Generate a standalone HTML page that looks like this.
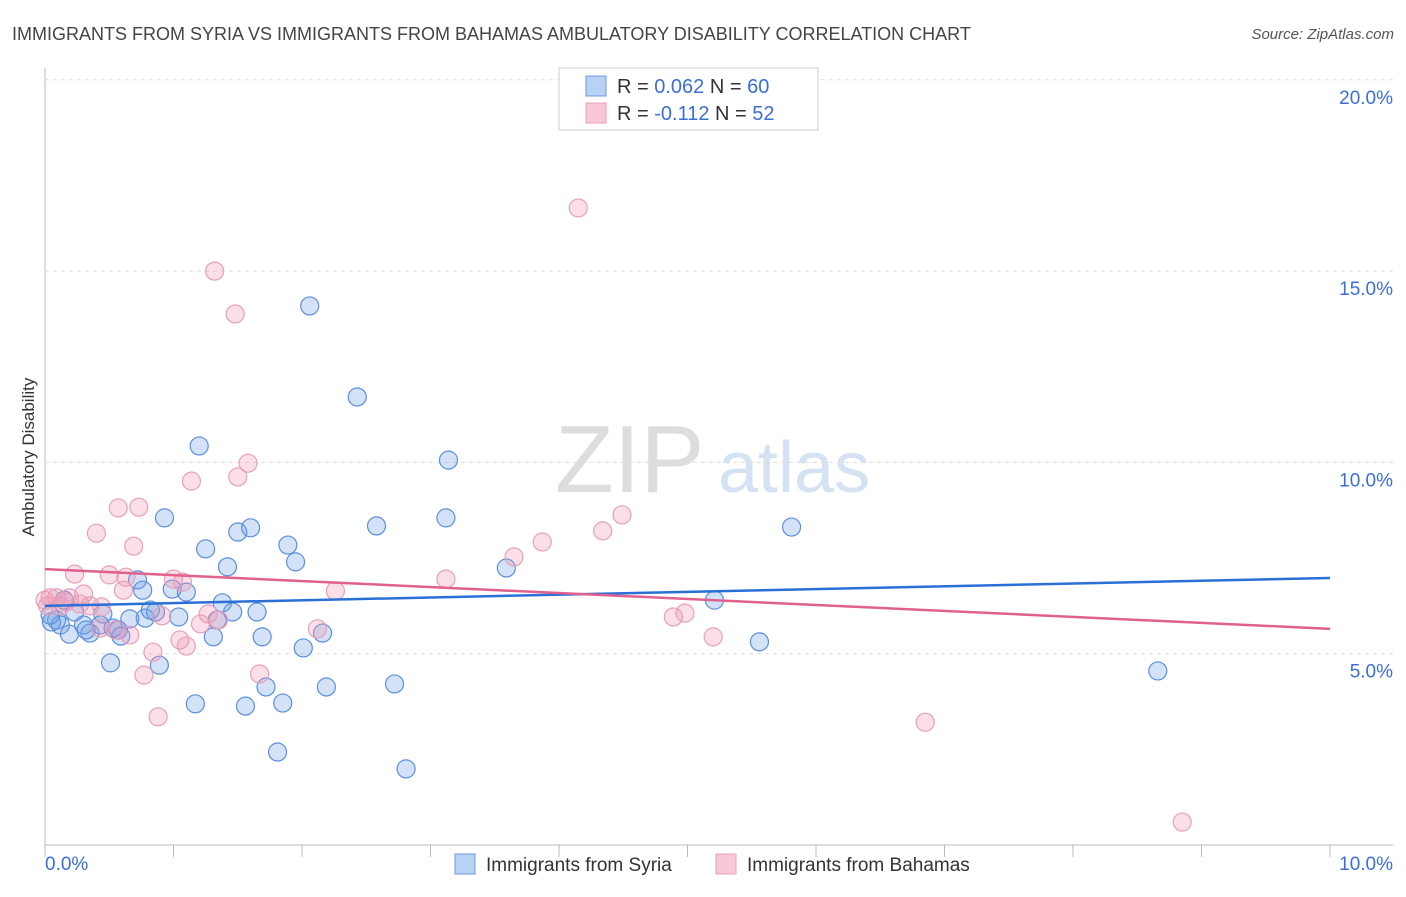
<!DOCTYPE html>
<html><head><meta charset="utf-8"><style>
body{margin:0;background:#fff;font-family:"Liberation Sans",sans-serif}
svg text{font-family:"Liberation Sans",sans-serif}
</style></head><body>
<svg width="1406" height="892" id="c">
<text x="12" y="40" font-size="18" fill="#444">IMMIGRANTS FROM SYRIA VS IMMIGRANTS FROM BAHAMAS AMBULATORY DISABILITY CORRELATION CHART</text>
<text x="1394" y="39" font-size="15" fill="#555" text-anchor="end" font-style="italic">Source: ZipAtlas.com</text>
<text x="34" y="457" font-size="17" fill="#333" text-anchor="middle" transform="rotate(-90 34 457)">Ambulatory Disability</text>
<text x="555" y="492" font-size="96" fill="#ddd" font-family="Liberation Serif">ZIP</text>
<text x="718" y="492" font-size="72" fill="#d4e2f4">atlas</text>
<g id="grid"></g><g id="pts"></g><g id="lines"></g>
<g>
<rect x="559" y="68" width="259" height="62" fill="#fff" stroke="#ccc"/>
<rect x="586" y="76" width="20" height="20" fill="#b8d2f4" stroke="#6b9be0"/>
<rect x="586" y="103" width="20" height="20" fill="#f8c8d8" stroke="#e8a0b8"/>
<text x="617" y="93" font-size="20" fill="#333">R = <tspan fill="#3b6fd4">0.062</tspan>   N = <tspan fill="#3b6fd4">60</tspan></text>
<text x="617" y="120" font-size="20" fill="#333">R = <tspan fill="#3b6fd4">-0.112</tspan>   N = <tspan fill="#3b6fd4">52</tspan></text>
</g>
<g>
<rect x="455" y="854" width="20" height="20" fill="#b8d2f4" stroke="#6b9be0"/>
<text x="486" y="871" font-size="19" fill="#333">Immigrants from Syria</text>
<rect x="716" y="854" width="20" height="20" fill="#f8c8d8" stroke="#e8a0b8"/>
<text x="747" y="871" font-size="19" fill="#333">Immigrants from Bahamas</text>
</g>
</svg>
<script>
const xTicks=[0,1,2,3,4,5,6,7,8,9,10];
const yTicks=[5,10,15,20];
const yTickLabels=["5.0%","10.0%","15.0%","20.0%"];
const syriaX=[2.06,2.43,1.20,3.14,0.93,3.12,2.58,1.60,1.50,5.81,1.25,1.89,1.95,1.42,3.59,0.72,0.99,1.10,0.76,1.38,0.86,1.46,1.65,1.04,0.45,0.66,0.30,0.09,0.12,0.19,0.35,0.57,0.59,0.53,1.34,1.69,1.31,2.16,2.01,5.21,5.56,0.51,0.89,8.66,1.72,2.19,2.72,1.17,1.56,1.85,1.81,2.81,0.05,0.23,0.43,0.78,0.04,0.15,0.82,0.32];
const syriaY=[14.09,11.71,10.43,10.06,8.55,8.55,8.34,8.29,8.18,8.31,7.74,7.84,7.40,7.27,7.24,6.93,6.69,6.61,6.66,6.33,6.09,6.09,6.09,5.96,6.04,5.91,5.75,5.88,5.75,5.51,5.54,5.62,5.46,5.67,5.88,5.44,5.44,5.54,5.15,6.40,5.31,4.76,4.70,4.55,4.13,4.13,4.21,3.69,3.63,3.71,2.43,1.99,5.83,6.09,5.75,5.93,6.01,6.40,6.14,5.62];
const bahX=[4.15,1.32,1.48,1.58,1.14,1.50,0.57,0.73,0.40,0.69,3.87,3.65,4.34,4.49,0.23,0.50,0.63,1.00,1.07,3.12,2.26,0.61,0.30,0.09,0.16,0.27,0.35,0.44,0.12,0.04,1.27,0.91,1.35,2.12,1.21,1.05,1.10,0.66,0.55,0.43,4.89,4.98,5.20,0.84,1.67,0.77,0.88,6.85,8.85,0.02,0.19,0.0];
const bahY=[16.65,15.00,13.88,9.98,9.51,9.62,8.81,8.83,8.15,7.81,7.92,7.53,8.21,8.63,7.08,7.06,7.00,6.95,6.87,6.95,6.64,6.66,6.56,6.46,6.35,6.30,6.25,6.22,6.25,6.46,6.04,5.99,5.88,5.65,5.78,5.36,5.20,5.49,5.62,5.67,5.96,6.06,5.44,5.04,4.47,4.44,3.35,3.21,0.60,6.25,6.46,6.40];
const syriaTrend=[6.25,6.98];
const bahTrend=[7.21,5.65];
const NS="http://www.w3.org/2000/svg";
const sx=v=>45+v*128.5, sy=v=>845-v*38.26;
function mk(t,a,p){const e=document.createElementNS(NS,t);for(const k in a)e.setAttribute(k,a[k]);p.appendChild(e);return e;}
const g=document.getElementById('grid');
let ax=mk('line',{x1:45,y1:68,x2:45,y2:845,stroke:'#bbb'},g);


let bx=mk('line',{x1:45,y1:845,x2:1393,y2:845,stroke:'#bbb'},g);


xTicks.forEach(t=>{let l=mk('line',{x1:sx(t),y1:845,x2:sx(t),y2:857,stroke:'#bbb'},g);

});
yTicks.forEach((t,i)=>{let l=mk('line',{x1:45,y1:sy(t),x2:1393,y2:sy(t),stroke:'#ddd','stroke-dasharray':'4 4'},g);


let tx=mk('text',{x:1393,y:sy(t)+24,'font-size':19,fill:'#3b6fd4','text-anchor':'end'},g);tx.textContent=yTickLabels[i];

});
let x0=mk('text',{x:45,y:870,'font-size':19,fill:'#3b6fd4'},g);x0.textContent='0.0%';


let x1=mk('text',{x:1393,y:870,'font-size':19,fill:'#3b6fd4','text-anchor':'end'},g);x1.textContent='10.0%';


const P=document.getElementById('pts');
syriaX.forEach((x,i)=>{let c=mk('circle',{cx:sx(x),cy:sy(syriaY[i]),r:9,fill:'rgba(110,160,230,0.3)',stroke:'#5b8fe0','stroke-width':1.2},P);

});
bahX.forEach((x,i)=>{let c=mk('circle',{cx:sx(x),cy:sy(bahY[i]),r:9,fill:'rgba(240,150,180,0.3)',stroke:'#e8a0b8','stroke-width':1.2},P);

});
const L=document.getElementById('lines');
let t1=mk('line',{x1:sx(0),y1:sy(syriaTrend[0]),x2:sx(10),y2:sy(syriaTrend[1]),stroke:'#2a6fd6','stroke-width':2.5},L);


let t2=mk('line',{x1:sx(0),y1:sy(bahTrend[0]),x2:sx(10),y2:sy(bahTrend[1]),stroke:'#e0608e','stroke-width':2.5},L);


</script>
</body></html>
